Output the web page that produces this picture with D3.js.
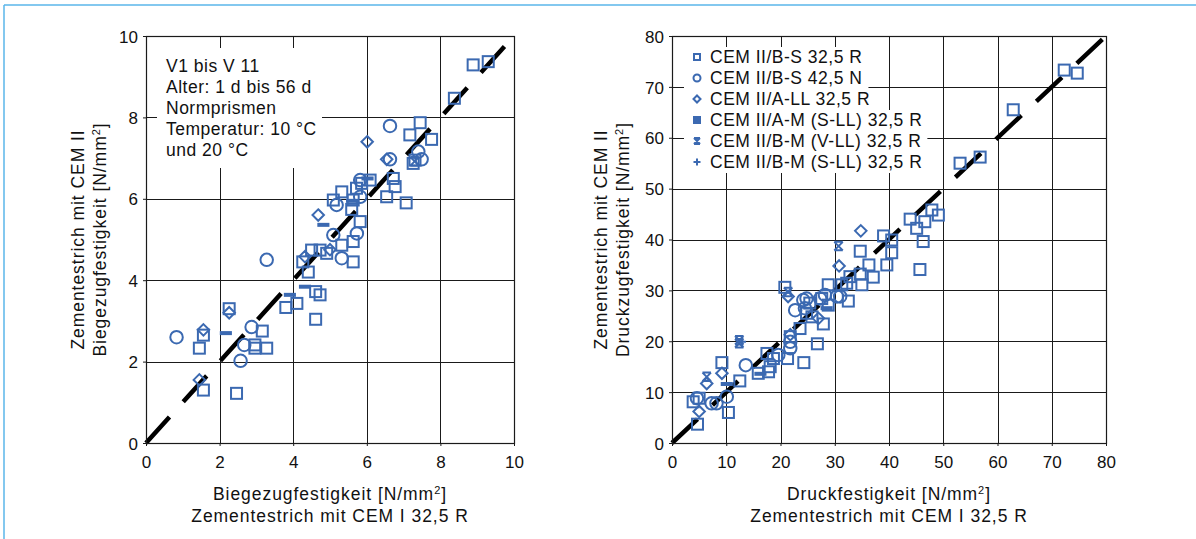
<!DOCTYPE html>
<html>
<head>
<meta charset="utf-8">
<script src="https://cdn.jsdelivr.net/npm/d3@7/dist/d3.min.js"></script>
<style>
  html, body { margin: 0; padding: 0; background: #fff; }
  svg { display: block; }
  text { font-family: "Liberation Sans", Arial, Helvetica, sans-serif; fill: #111; }
</style>
</head>
<body>
<svg id="chart" width="1196" height="539"></svg>
<script>
// ---------- data: flexural strength (left panel) ----------
const bzTicks = [0, 2, 4, 6, 8, 10];
const bzSquares = [[1.45,2.33],[1.56,2.65],[1.56,1.30],[2.26,3.30],[2.46,1.22],[2.96,2.41],[2.96,2.33],[3.28,2.33],
  [3.16,2.75],[3.80,3.33],[4.10,3.43],[4.61,3.72],[4.73,3.64],[4.61,3.04],[4.26,4.45],[4.41,4.20],[4.50,4.74],
  [4.73,4.74],[4.91,4.66],[5.63,4.45],[5.32,4.86],[5.63,4.95],[5.82,5.44],[5.09,5.97],[5.32,6.17],[5.63,5.97],
  [5.59,5.74],[5.72,6.26],[5.86,6.38],[6.09,6.46],[6.72,6.50],[6.77,6.30],[6.54,6.05],[7.07,5.90],[7.31,6.95],
  [7.26,6.87],[7.17,7.57],[7.45,7.87],[7.76,7.46],[8.38,8.47],[8.89,9.29],[9.30,9.37]];
const bzCircles = [[0.83,2.60],[2.57,2.02],[2.67,2.41],[2.87,2.85],[3.28,4.50],[5.32,4.54],[5.09,5.11],[5.73,5.15],
  [5.18,5.85],[5.82,6.05],[5.82,6.46],[6.63,6.97],[6.63,7.79],[7.49,6.97],[7.40,7.16]];
const bzDiamonds = [[1.45,1.55],[1.56,2.78],[2.26,3.20],[4.32,4.58],[4.68,5.60],[5.00,4.75],[6.01,7.40],[6.54,6.97]];
const bzBars = [[2.17,2.70],[3.91,3.64],[4.32,3.84],[4.82,5.36],[6.02,6.50],[5.60,5.95]];
const bzCrosses = [[7.30,6.92]];
const bzPluses = [];

// ---------- data: compressive strength (right panel) ----------
const dzTicks = [0, 10, 20, 30, 40, 50, 60, 70, 80];
const dzSquares = [[4.7,3.7],[3.9,8.1],[5.0,8.8],[10.4,6.0],[9.2,15.8],[12.5,12.2],[15.9,13.7],[17.8,14.0],[18.1,15.0],
  [17.5,17.6],[18.7,16.6],[21.3,16.6],[24.3,15.8],[21.8,20.9],[23.6,22.5],[26.8,19.5],[27.9,23.4],[24.8,25.5],
  [25.8,24.8],[20.8,30.6],[25.4,27.5],[27.6,28.4],[28.8,27.1],[28.8,31.1],[32.5,27.9],[31.3,31.1],[32.2,31.4],
  [32.8,32.7],[34.7,37.7],[34.7,33.2],[35.0,31.1],[36.3,35.0],[37.1,32.6],[39.0,40.7],[40.5,39.9],[40.5,37.4],
  [39.6,35.0],[43.9,44.0],[45.1,42.2],[46.6,43.5],[47.9,45.8],[49.1,44.8],[46.3,39.6],[45.7,34.1],[53.1,55.0],
  [56.8,56.2],[62.9,65.5],[72.3,73.3],[74.7,72.7]];
const dzCircles = [[4.6,8.8],[7.3,7.8],[8.2,7.8],[10.1,9.1],[13.6,15.3],[19.6,17.3],[21.8,18.6],[21.8,19.9],[22.7,26.1],
  [24.2,28.1],[24.8,28.4],[24.5,26.5],[27.3,28.4],[28.2,29.1],[30.4,28.8],[31.0,28.8]];
const dzDiamonds = [[5.0,6.2],[6.4,11.7],[9.2,13.7],[21.4,28.8],[21.8,21.3],[27.0,24.5],[30.8,34.8],[34.8,41.7]];
const dzBars = [[10.1,11.6],[28.5,26.5],[16.3,13.6]];
const dzCrosses = [[6.4,13.0],[12.4,19.6],[12.4,20.2],[21.4,29.7],[30.7,38.7]];
const dzPluses = [[12.9,19.9]];

// ---------- texts ----------
const legendLabels = ["CEM II/B-S 32,5 R", "CEM II/B-S 42,5 N", "CEM II/A-LL 32,5 R",
  "CEM II/A-M (S-LL) 32,5 R", "CEM II/B-M (V-LL) 32,5 R", "CEM II/B-M (S-LL) 32,5 R"];
const noteLines = ["V1 bis V 11", "Alter: 1 d bis 56 d", "Normprismen", "Temperatur: 10 °C", "und 20 °C"];

const blue = "#3b69b1";
const svg = d3.select("#chart");

// outer frame (top and left rule)
svg.append("line").attr("x1", 4).attr("y1", 5).attr("x2", 1196).attr("y2", 5)
  .attr("stroke", "#5ab6ea").attr("stroke-width", 1.5);
svg.append("line").attr("x1", 4).attr("y1", 5).attr("x2", 4).attr("y2", 539)
  .attr("stroke", "#5ab6ea").attr("stroke-width", 1.5);

// marker painters
function drawSquare(g, x, y, s) {
  g.append("rect").attr("x", x - s / 2).attr("y", y - s / 2).attr("width", s).attr("height", s)
    .attr("fill", "none").attr("stroke", blue).attr("stroke-width", 2);
}
function drawCircle(g, x, y, s) {
  g.append("circle").attr("cx", x).attr("cy", y).attr("r", s / 2)
    .attr("fill", "none").attr("stroke", blue).attr("stroke-width", 2);
}
function drawDiamond(g, x, y, s) {
  const h = s / 2;
  g.append("path").attr("d", `M${x},${y - h}L${x + h},${y}L${x},${y + h}L${x - h},${y}Z`)
    .attr("fill", "none").attr("stroke", blue).attr("stroke-width", 2);
}
function drawBar(g, x, y, s) {
  g.append("rect").attr("x", x - s * 0.55).attr("y", y - 2).attr("width", s * 1.1).attr("height", 4).attr("fill", blue);
}
function drawBox(g, x, y, s) {
  g.append("rect").attr("x", x - s / 2).attr("y", y - s / 2).attr("width", s).attr("height", s).attr("fill", blue);
}
function drawCross(g, x, y, s) {
  const h = s / 2;
  g.append("path").attr("d", `M${x - h},${y - h}L${x + h},${y + h}M${x + h},${y - h}L${x - h},${y + h}M${x - h},${y - h}L${x + h},${y - h}M${x - h},${y + h}L${x + h},${y + h}`)
    .attr("fill", "none").attr("stroke", blue).attr("stroke-width", 2);
}
function drawPlus(g, x, y, s) {
  const h = s / 2;
  g.append("path").attr("d", `M${x - h},${y}L${x + h},${y}M${x},${y - h}L${x},${y + h}`)
    .attr("fill", "none").attr("stroke", blue).attr("stroke-width", 2);
}

function panel(cfg) {
  const x = d3.scaleLinear().domain(cfg.domain).range([cfg.left, cfg.right]);
  const y = d3.scaleLinear().domain(cfg.domain).range([cfg.bottom, cfg.top]);
  const g = svg.append("g");

  // grid
  g.selectAll(".gx").data(cfg.ticks).join("line")
    .attr("x1", d => Math.round(x(d)) + 0.5).attr("x2", d => Math.round(x(d)) + 0.5)
    .attr("y1", cfg.top).attr("y2", cfg.bottom).attr("stroke", "#1a1a1a").attr("stroke-width", 1);
  g.selectAll(".gy").data(cfg.ticks).join("line")
    .attr("y1", d => Math.round(y(d)) + 0.5).attr("y2", d => Math.round(y(d)) + 0.5)
    .attr("x1", cfg.left).attr("x2", cfg.right).attr("stroke", "#1a1a1a").attr("stroke-width", 1);

  // axes with outward ticks and labels
  const ax = g.append("g").attr("transform", `translate(0,${cfg.bottom})`)
    .call(d3.axisBottom(x).tickValues(cfg.ticks).tickSize(3).tickPadding(6).tickFormat(d3.format("d")));
  const ay = g.append("g").attr("transform", `translate(${cfg.left},0)`)
    .call(d3.axisLeft(y).tickValues(cfg.ticks).tickSize(3).tickPadding(6).tickFormat(d3.format("d")));
  [ax, ay].forEach(a => {
    a.select(".domain").remove();
    a.selectAll("line").attr("stroke", "#1a1a1a");
    a.selectAll("text").attr("font-size", 17).attr("fill", "#111")
      .attr("font-family", '"Liberation Sans", Arial, sans-serif');
  });
  ax.selectAll("text").attr("dy", "0.92em");
  ay.selectAll("text").attr("dy", "0.36em").attr("x", -8);

  // white backdrop boxes for notes / legend
  if (cfg.backdrop) cfg.backdrop(g, x, y);

  // diagonal 1:1 reference line
  const lo = cfg.domain[0], hi = cfg.domain[1];
  g.append("line").attr("x1", x(lo)).attr("y1", y(lo)).attr("x2", x(hi)).attr("y2", y(hi))
    .attr("stroke", "#000").attr("stroke-width", 4.5).attr("stroke-dasharray", "35,20.5");

  // frame
  g.append("rect").attr("x", cfg.left + 0.5).attr("y", cfg.top + 0.5)
    .attr("width", cfg.right - cfg.left).attr("height", cfg.bottom - cfg.top)
    .attr("fill", "none").attr("stroke", "#1a1a1a").attr("stroke-width", 1.2);

  // markers
  const m = g.append("g");
  cfg.series.forEach(s => s.data.forEach(d => s.draw(m, x(d[0]), y(d[1]), s.size)));

  // axis titles
  const cx = (cfg.left + cfg.right) / 2, cy = (cfg.top + cfg.bottom) / 2;
  cfg.xTitle.forEach((t, i) => {
    const tt = g.append("text").attr("x", cx).attr("y", 500 + i * 22).attr("text-anchor", "middle")
      .attr("font-size", 17.5).attr("letter-spacing", "0.95px");
    tt.html(t);
  });
  cfg.yTitle.forEach((t, i) => {
    const tx = cfg.yTitleX + i * 22;
    const tt = g.append("text").attr("transform", `translate(${tx},${cy}) rotate(-90)`)
      .attr("text-anchor", "middle").attr("font-size", 17.5).attr("letter-spacing", "0.95px");
    tt.html(t);
  });
  return { x, y, g };
}

const unit = 'N/mm<tspan baseline-shift="super" font-size="11">2</tspan>';

// left panel: flexural strength
panel({
  domain: [0, 10], ticks: bzTicks, left: 146, right: 514, top: 36, bottom: 443,
  xTitle: [`Biegezugfestigkeit [${unit}]`, "Zementestrich mit CEM I 32,5 R"],
  yTitle: ["Zementestrich mit CEM II", `Biegezugfestigkeit [${unit}]`], yTitleX: 84,
  series: [
    { data: bzSquares, draw: drawSquare, size: 11 },
    { data: bzCircles, draw: drawCircle, size: 12.5 },
    { data: bzDiamonds, draw: drawDiamond, size: 11.5 },
    { data: bzBars, draw: drawBar, size: 11 },
    { data: bzCrosses, draw: drawCross, size: 8.5 },
    { data: bzPluses, draw: drawPlus, size: 8 }
  ],
  backdrop: (g) => {
    g.append("rect").attr("x", 157).attr("y", 48).attr("width", 165).attr("height", 120).attr("fill", "#fff");
    noteLines.forEach((t, i) => {
      g.append("text").attr("x", 166).attr("y", 72 + i * 21).attr("font-size", 17.5)
        .attr("letter-spacing", "0.5px").text(t);
    });
  }
});

// right panel: compressive strength
panel({
  domain: [0, 80], ticks: dzTicks, left: 672, right: 1106, top: 36, bottom: 443,
  xTitle: [`Druckfestigkeit [${unit}]`, "Zementestrich mit CEM I 32,5 R"],
  yTitle: ["Zementestrich mit CEM II", `Druckzugfestigkeit [${unit}]`], yTitleX: 607,
  series: [
    { data: dzSquares, draw: drawSquare, size: 11 },
    { data: dzCircles, draw: drawCircle, size: 12.5 },
    { data: dzDiamonds, draw: drawDiamond, size: 11.5 },
    { data: dzBars, draw: drawBar, size: 11 },
    { data: dzCrosses, draw: drawCross, size: 8.5 },
    { data: dzPluses, draw: drawPlus, size: 8 }
  ],
  backdrop: (g) => {
    const painters = [drawSquare, drawCircle, drawDiamond, drawBox, drawCross, drawPlus];
    const sizes = [6, 7, 7, 8, 6, 7];
    legendLabels.forEach((t, i) => {
      const yy = 57 + i * 21;
      const row = g.append("g");
      const bg = row.append("rect").attr("fill", "#fff");
      const tx = row.append("text").attr("x", 710).attr("y", yy).attr("dy", "0.36em")
        .attr("font-size", 17.5).attr("letter-spacing", "0.5px").text(t);
      const w = tx.node().getComputedTextLength();
      bg.attr("x", 684).attr("y", yy - 10).attr("width", 710 - 684 + w + 6).attr("height", 21);
      painters[i](row, 697, yy, sizes[i]);
    });
  }
});
</script>
</body>
</html>
